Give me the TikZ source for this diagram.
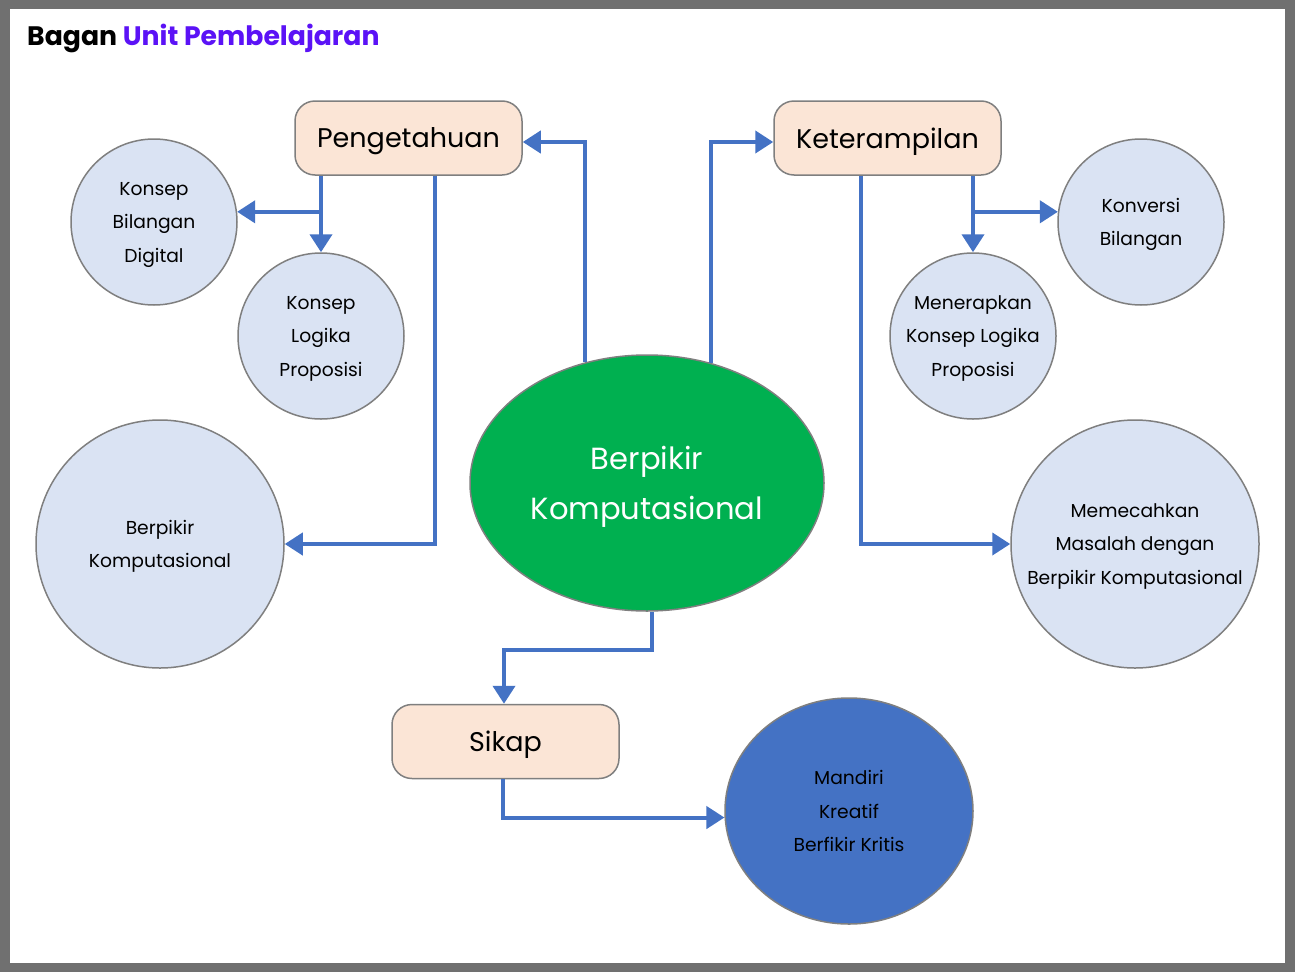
\documentclass[tikz,border=0pt]{standalone}
\usepackage{fontspec}
\setmainfont{Poppins}
\usetikzlibrary{shapes.geometric,arrows.meta}
\definecolor{framegray}{HTML}{707070}
\definecolor{edgegray}{HTML}{7F7F7F}
\definecolor{peach}{HTML}{FBE5D6}
\definecolor{paleblue}{HTML}{DAE3F3}
\definecolor{linkblue}{HTML}{4472C4}
\definecolor{mindgreen}{HTML}{00B050}
\definecolor{titlepurple}{HTML}{5B12F6}
\tikzset{
  aspek/.style={draw=edgegray, line width=1.5pt, fill=peach, rounded corners=20pt, text depth=0pt,
    minimum width=227pt, minimum height=74pt, font=\fontsize{27}{30}\selectfont},
  materi/.style={circle, draw=edgegray, line width=1.5pt, fill=paleblue, inner sep=0pt, text depth=0pt,
    align=center, font=\fontsize{18.7}{33.5}\selectfont},
  kecil/.style={materi, minimum size=166pt},
  besar/.style={materi, minimum size=248pt},
  panah/.style={draw=linkblue, line width=4pt, -{Triangle[length=18pt,width=22pt]}}
}
\begin{document}
\begin{tikzpicture}[x=1pt,y=-1pt]
\useasboundingbox (0,0) rectangle (1295,972);
\fill[framegray] (0,0) rectangle (1295,972);
\fill[white] (10,9) rectangle (1285,963);
\node[anchor=base west, inner sep=0pt, font=\fontsize{26.7}{30}\selectfont\bfseries] (judul) at (27,45)
  {Bagan \textcolor{titlepurple}{Unit Pembelajaran}};

\node[ellipse, draw=edgegray, line width=1.5pt, fill=mindgreen, minimum width=354pt, minimum height=256pt,
  inner sep=0pt, text depth=0pt, align=center, text=white, font=\fontsize{30.6}{50}\selectfont] (bk) at (647,483)
  {Berpikir\\Komputasional};

\node[aspek] (peng) at (408.5,138) {Pengetahuan};
\node[aspek] (ket) at (887.5,138) {Keterampilan};
\node[aspek] (sik) at (505.5,741.5) {Sikap};

\node[kecil] (kbd) at (154,222) {Konsep\\Bilangan\\Digital};
\node[kecil] (klp) at (321,336) {Konsep\\Logika\\Proposisi};
\node[besar] (bkl) at (160,544) {Berpikir\\Komputasional};
\node[kecil] (kvb) at (1141,222) {Konversi\\Bilangan};
\node[kecil] (mkl) at (973,336) {Menerapkan\\Konsep Logika\\Proposisi};
\node[besar] (mmb) at (1135,544) {Memecahkan\\Masalah dengan\\Berpikir Komputasional};
\node[materi, ellipse, fill=linkblue, minimum width=248pt, minimum height=226pt] (sbk) at (849,811)
  {Mandiri\\Kreatif\\Berfikir Kritis};

\draw[panah] (bk.117) |- ([yshift=-4pt]peng.east);
\draw[panah] (bk.62) |- ([yshift=-4pt]ket.west);
\draw[panah] (peng.south -| klp.north) -- (klp.north);
\draw[panah] (klp.north |- kbd.7) -- (kbd.7);
\draw[panah] ([xshift=26.5pt]peng.south) |- (bkl.east);
\draw[panah] (ket.south -| mkl.north) -- (mkl.north);
\draw[panah] (mkl.north |- kvb.173) -- (kvb.173);
\draw[panah] ([xshift=-26.5pt]ket.south) |- (mmb.west);
\draw[panah] ([xshift=5pt]bk.south) -- ++(0,38) -| ([xshift=-1.5pt]sik.north);
\draw[panah] ([xshift=-3pt]sik.south) |- (sbk.183);
\end{tikzpicture}
\end{document}
